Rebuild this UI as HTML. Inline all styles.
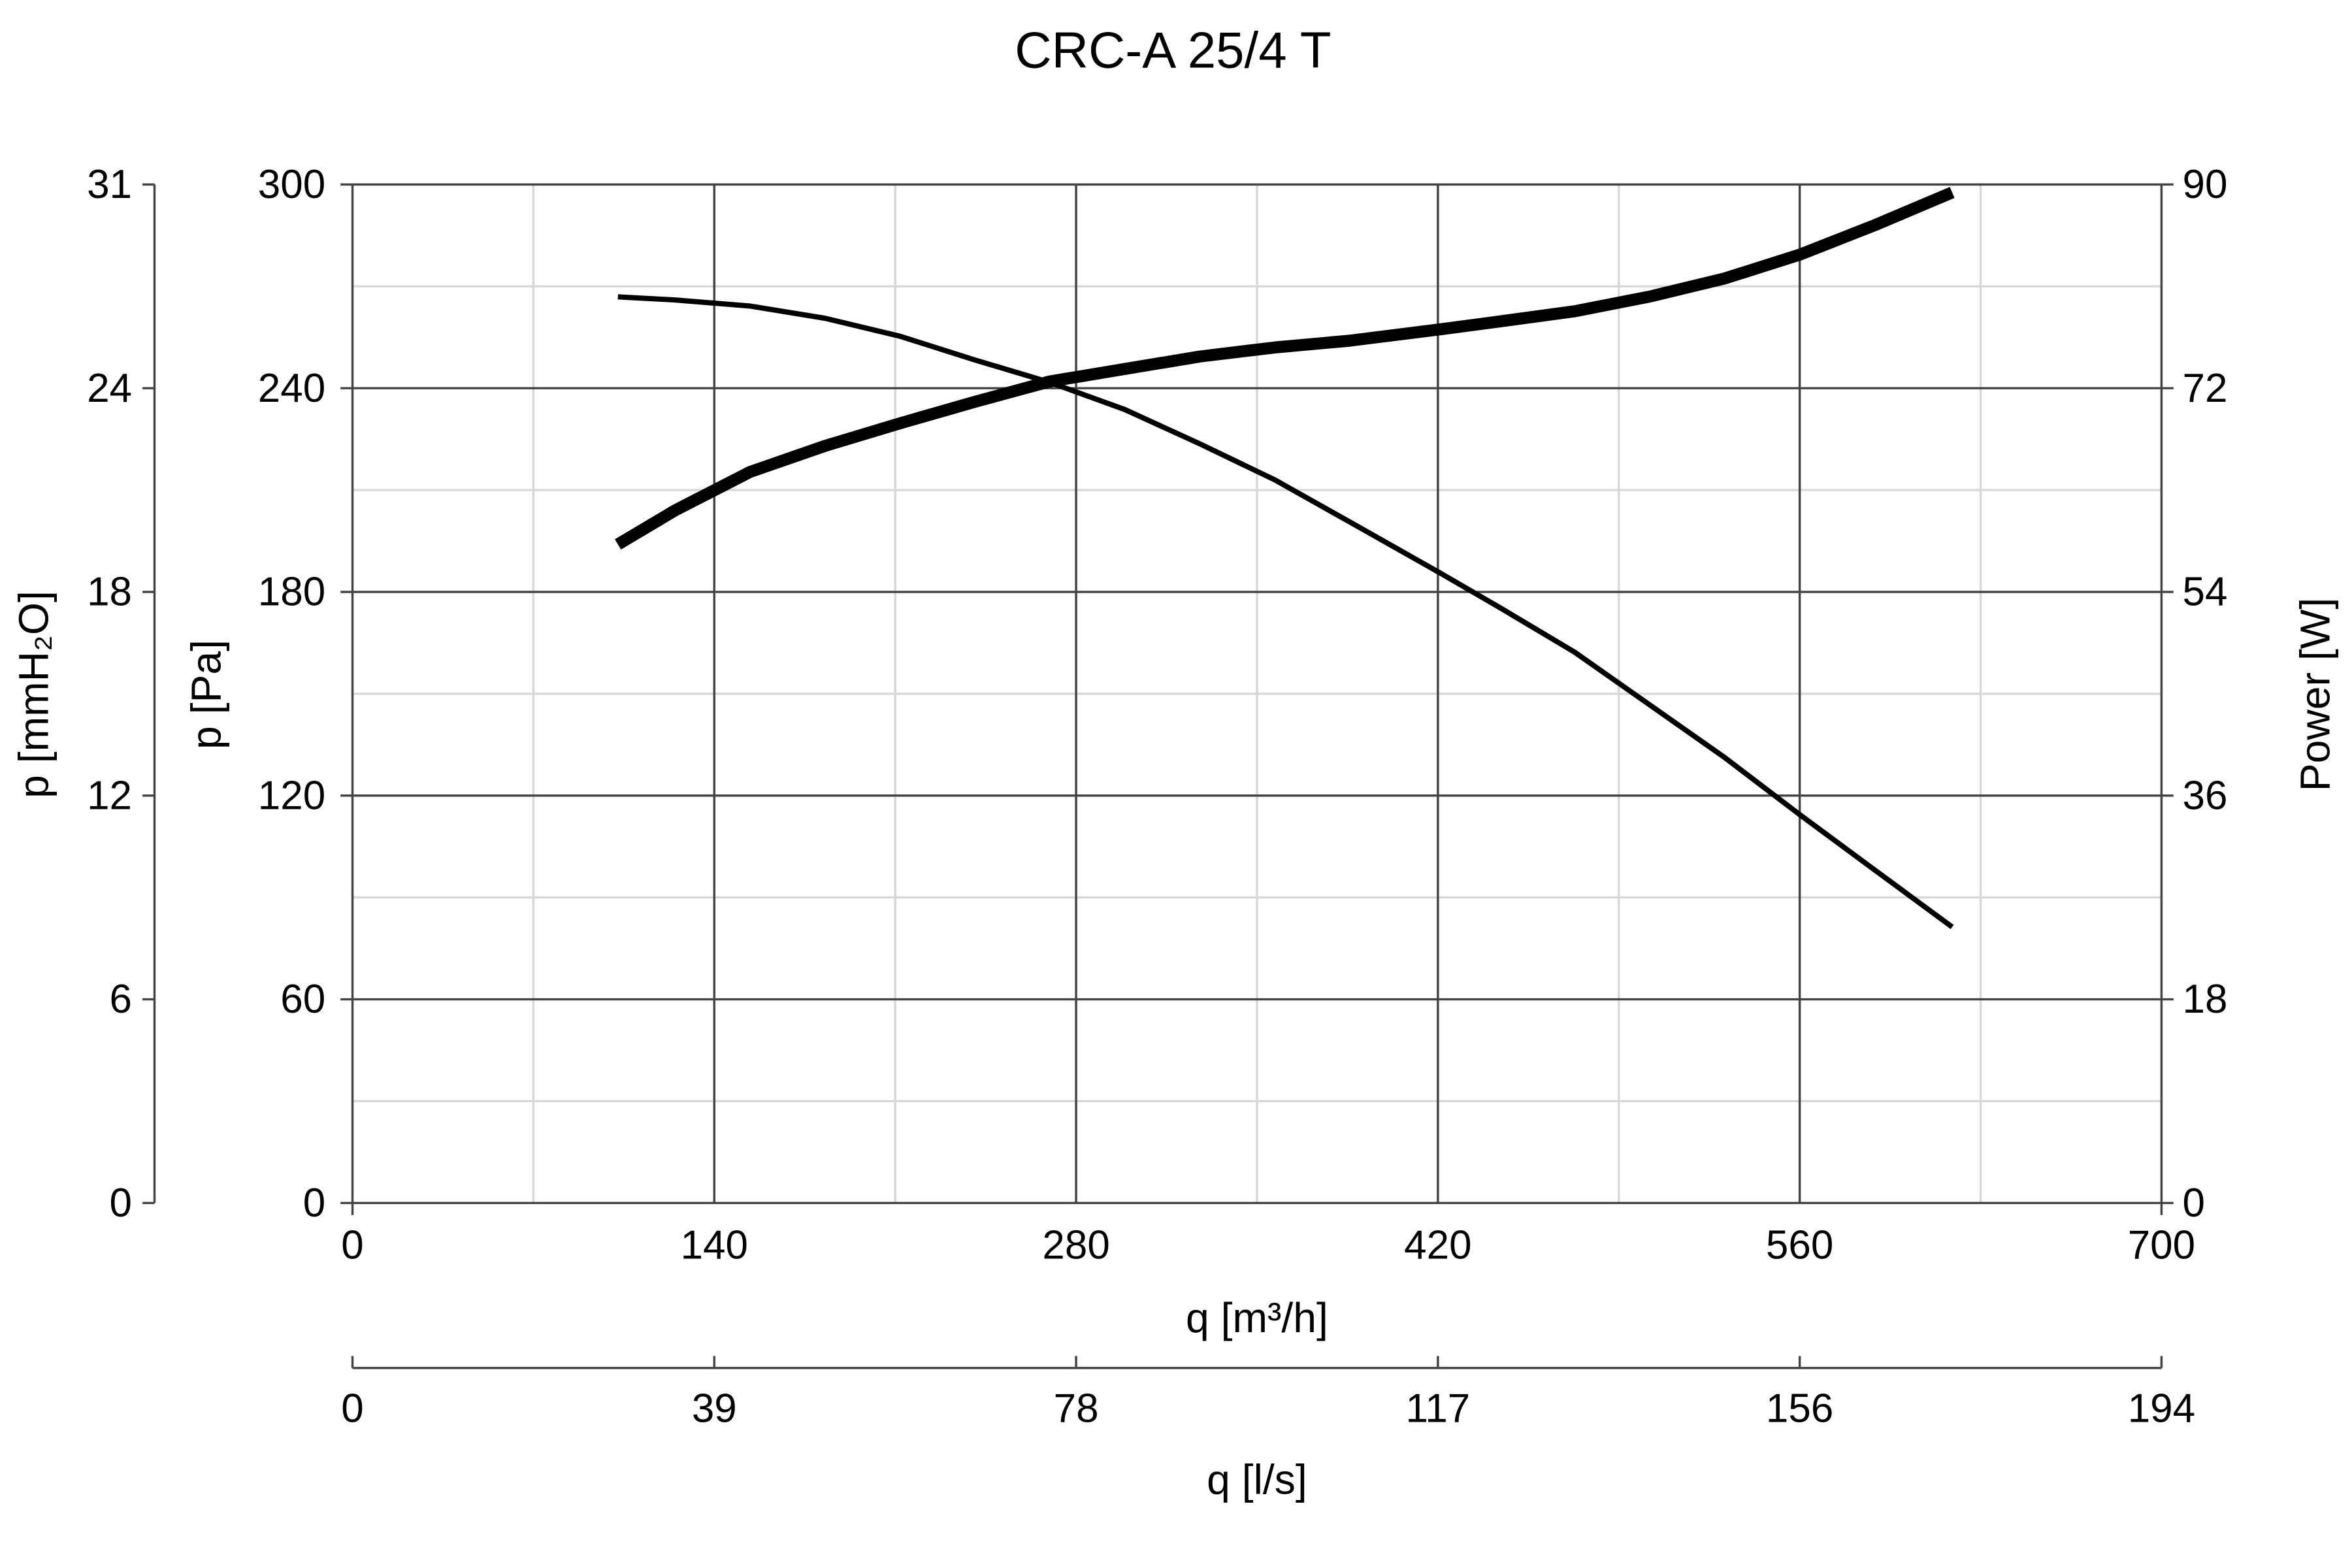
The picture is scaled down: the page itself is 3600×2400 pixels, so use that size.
<!DOCTYPE html>
<html><head><meta charset="utf-8"><style>
html,body{margin:0;padding:0;background:#fff;}
svg{display:block;font-family:"Liberation Sans",Arial,sans-serif;}
</style></head><body>
<svg id="chart" width="3600" height="2400" viewBox="0 0 1568 1045.33" preserveAspectRatio="none" xmlns="http://www.w3.org/2000/svg">
<rect width="1568" height="1046" fill="#fff"/>
<text x="782" y="45" font-size="34" text-anchor="middle" fill="#000">CRC-A 25/4 T</text>
<g id="grid"></g>
<g id="axes"></g>
<g id="series"></g>
<text x="838" y="888" font-size="28" text-anchor="middle">q [m³/h]</text>
<text x="838" y="996" font-size="28" text-anchor="middle">q [l/s]</text>
<text transform="translate(147,463) rotate(-90)" font-size="28" text-anchor="middle">p [Pa]</text>
<text transform="translate(32,463) rotate(-90)" font-size="28" text-anchor="middle">p [mmH₂O]</text>
<text transform="translate(1553,463) rotate(-90)" font-size="28" text-anchor="middle">Power [W]</text>
</svg>
<script>
const flowTicks=[0,140,280,420,560,700];
const flowLsTicks=[0,39,78,117,156,194];
const paTicks=[0,60,120,180,240,300];
const mmTicks=[0,6,12,18,24,31];
const powerTicks=[0,18,36,54,72,90];
const pressureQ=[102.7,124.8,153.8,182.8,211.9,240.9,269.9,298.9,327.9,356.9,385.9,420.8,443.9,473,502,531,560,589,619];
const pressurePa=[266.9,266,264.2,260.6,255.3,248.3,241.7,233.7,223.6,213,200.6,185.6,175.4,162.2,146.7,131.2,114.4,98.1,81.3];
const powerQ=[102.7,124.8,153.8,182.8,211.9,240.9,269.9,298.9,327.9,356.9,385.9,420.8,443.9,473,502,531,560,589,619];
const powerW=[58.2,61.2,64.6,66.9,68.9,70.8,72.6,73.7,74.8,75.6,76.2,77.2,77.9,78.8,80.1,81.7,83.8,86.4,89.3];

const L=235,R=1441,T=123,B=802;
const xS=q=>L+(q/700)*(R-L);
const yP=p=>B-(p/300)*(B-T);
const yW=w=>B-(w/90)*(B-T);
const NS="http://www.w3.org/2000/svg";
function mk(tag,attrs,parent){const e=document.createElementNS(NS,tag);for(const k in attrs)e.setAttribute(k,attrs[k]);parent.appendChild(e);return e;}
const grid=document.getElementById('grid'),axes=document.getElementById('axes'),series=document.getElementById('series');

for(let q=70;q<700;q+=140){
  const l=mk('line',{x1:xS(q),x2:xS(q),y1:T,y2:B,stroke:'#d8d8d8','stroke-width':1.5},grid);
  
  
}
for(let p=30;p<300;p+=60){
  const l=mk('line',{x1:L,x2:R,y1:yP(p),y2:yP(p),stroke:'#d8d8d8','stroke-width':1.5},grid);
  
  
}
flowTicks.forEach((q,i)=>{
  if(i>0&&i<flowTicks.length-1){
    const l=mk('line',{x1:xS(q),x2:xS(q),y1:T,y2:B,stroke:'#444','stroke-width':1.5},grid);
    
    
  }
  const t=mk('text',{x:xS(q),y:839,'font-size':27,'text-anchor':'middle'},axes);t.textContent=q;
  
  
});
paTicks.forEach((p,i)=>{
  const y=yP(p);
  const l=mk('line',{x1:L-8,x2:R+8,y1:y,y2:y,stroke:'#444','stroke-width':1.5},grid);
  
  
  const t=mk('text',{x:217,y:y+9,'font-size':27,'text-anchor':'end'},axes);t.textContent=p;
  
  
  const m=mk('text',{x:88,y:y+9,'font-size':27,'text-anchor':'end'},axes);m.textContent=mmTicks[i];
  
  
  const tk=mk('line',{x1:95,x2:103,y1:y,y2:y,stroke:'#444','stroke-width':1.5},axes);
  
  
  const w=mk('text',{x:1455,y:yW(powerTicks[i])+9,'font-size':27,'text-anchor':'start'},axes);w.textContent=powerTicks[i];
  
  
});
let f=mk('line',{x1:L,x2:L,y1:T,y2:B+8,stroke:'#444','stroke-width':1.5},axes);

f=mk('line',{x1:R,x2:R,y1:T,y2:B+8,stroke:'#444','stroke-width':1.5},axes);

f=mk('line',{x1:103,x2:103,y1:T,y2:B,stroke:'#444','stroke-width':1.5},axes);

f=mk('line',{x1:L,x2:R,y1:912,y2:912,stroke:'#444','stroke-width':1.5},axes);

flowLsTicks.forEach((v,i)=>{
  const x=L+(i/(flowLsTicks.length-1))*(R-L);
  const tk=mk('line',{x1:x,x2:x,y1:904,y2:912,stroke:'#444','stroke-width':1.5},axes);
  
  
  const t=mk('text',{x:x,y:948,'font-size':27,'text-anchor':'middle'},axes);t.textContent=v;
  
  
});
const pp=mk('polyline',{points:pressureQ.map((q,i)=>xS(q)+','+yP(pressurePa[i])).join(' '),fill:'none',stroke:'#000','stroke-width':3.5,'stroke-linejoin':'round'},series);


const pw=mk('polyline',{points:powerQ.map((q,i)=>xS(q)+','+yW(powerW[i])).join(' '),fill:'none',stroke:'#000','stroke-width':8,'stroke-linejoin':'round'},series);


</script>
</body></html>
